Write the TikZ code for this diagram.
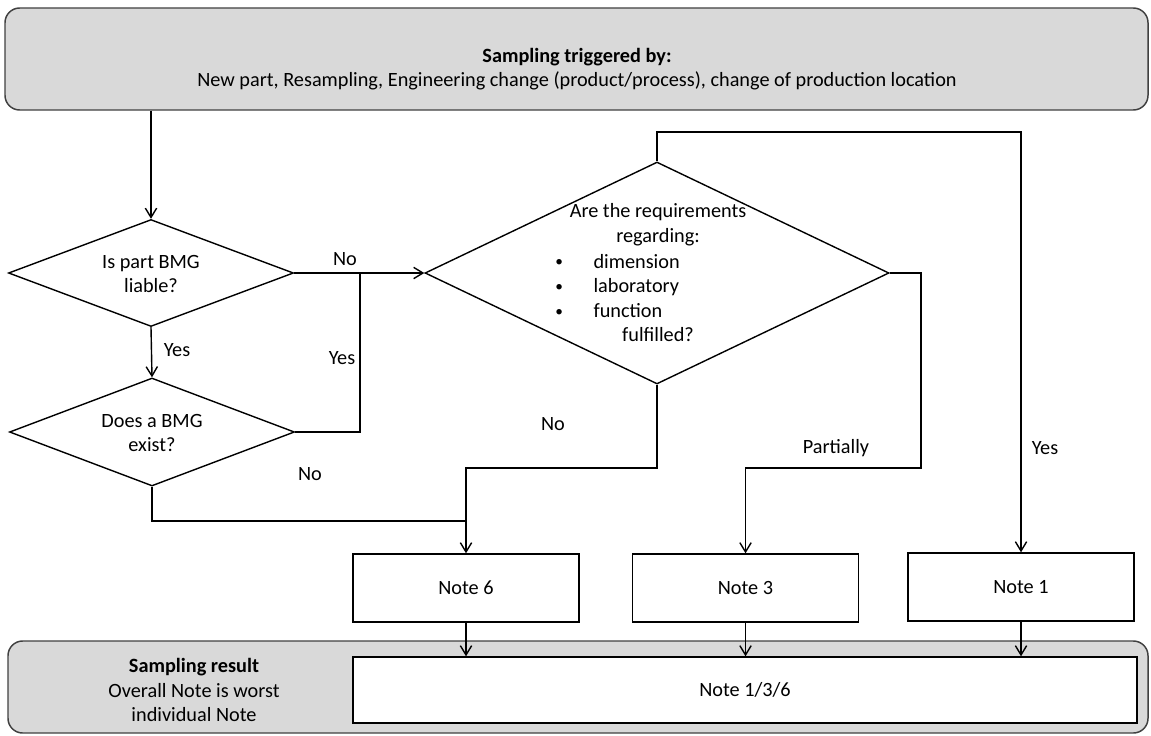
\documentclass[tikz,border=0pt]{standalone}
\usepackage{fontspec}
\setmainfont{Carlito}
\usetikzlibrary{arrows.meta,shapes.geometric}

\definecolor{panelgray}{HTML}{D9D9D9}
\definecolor{panelline}{HTML}{404040}

\newcommand{\smallbullet}{\raisebox{1pt}{\fontsize{11.5}{11.5}\selectfont\textbullet}}

\tikzset{
  every node/.style={font=\fontsize{15.2}{18.5}\selectfont, inner sep=0pt},
  panel/.style={draw=panelline, fill=panelgray, line width=1.1pt, rounded corners=11pt},
  decision/.style={diamond, draw, line width=1.05pt, minimum width=#1},
  notebox/.style={rectangle, draw, line width=1.05pt, fill=white,
                  minimum width=169.5pt, minimum height=51pt},
  flow/.style={line width=1.05pt},
  arr/.style={flow, -{Straight Barb[length=7pt,width=8.5pt]}},
  lbl/.style={align=center}
}

\begin{document}
\begin{tikzpicture}[x=0.75pt,y=-0.75pt]
  \useasboundingbox (0,0) rectangle (1151,735);

  % header and footer panels
  \node[panel, minimum width=857.25pt, minimum height=76.5pt] (top) at (576.5,59) {};
  \node[lbl] (toptext) at (577,69)
    {\textbf{Sampling triggered by:}\\New part, Resampling, Engineering change (product/process), change of production location};

  \node[panel, minimum width=855pt, minimum height=69pt] (bottom) at (578,687) {};
  \node[lbl] (bottomtext) at (194,690)
    {\textbf{Sampling result}\\Overall Note is worst\\individual Note};

  % decisions
  \node[decision=213.75pt, minimum height=80.25pt] (d1) at (151,273) {};
  \node[lbl] (d1text) at (151,274) {Is part BMG\\liable?};

  \node[decision=213.75pt, minimum height=81pt] (d2) at (152,432) {};
  \node[lbl] (d2text) at (152,433) {Does a BMG\\exist?};

  \node[decision=348pt, minimum height=166.5pt] (q) at (657,273) {};
  \node[lbl] (qhead) at (658,225) {Are the requirements\\regarding:};
  \node[align=left, anchor=west] (qlist) at (555,286)
    {\smallbullet\hspace{23pt}dimension\\\smallbullet\hspace{23pt}laboratory\\\smallbullet\hspace{23pt}function};
  \node (qtail) at (658,335) {fulfilled?};

  % notes
  \node[notebox] (n6) at (466,588) {Note 6};
  \node[notebox] (n3) at (745.5,588) {Note 3};
  \node[notebox] (n1) at (1021,587) {Note 1};

  \node[notebox, minimum width=588pt, minimum height=49.5pt] (res) at (745,690) {Note 1/3/6};

  % junctions
  \coordinate (jyes) at (360,273);
  \coordinate (jno) at (466,521);
  \coordinate (jfail) at (466,468);
  \coordinate (jpart) at (921,468);
  \coordinate (jtop) at (657,132);

  % connectors
  \draw[arr] (top.south -| d1.north) -- (d1.north);
  \draw[arr] (d1.east) -- (q.west);
  \draw[flow] (d2.east) -| (jyes);
  \draw[arr] (d1.south) -- (d2.north);
  \draw[flow] (d2.south) |- (jno);
  \draw[arr] (q.south) |- (jfail) -- (n6.north);
  \draw[arr] (q.east) -| (jpart) -| (n3.north);
  \draw[arr] (q.north) -- (jtop) -| (n1.north);

  \draw[arr] (n6.south) -- (res.north -| n6.south);
  \draw[arr] (n3.south) -- (res.north -| n3.south);
  \draw[arr] (n1.south) -- (res.north -| n1.south);

  % connector labels
  \node (lno1) at (345,259) {No};
  \node (lyes1) at (177,350) {Yes};
  \node (lyes2) at (342,358) {Yes};
  \node (lno2) at (310,474) {No};
  \node (lno3) at (553,424) {No};
  \node (lpart) at (836,448) {Partially};
  \node (lyes3) at (1045,448) {Yes};
\end{tikzpicture}
\end{document}
